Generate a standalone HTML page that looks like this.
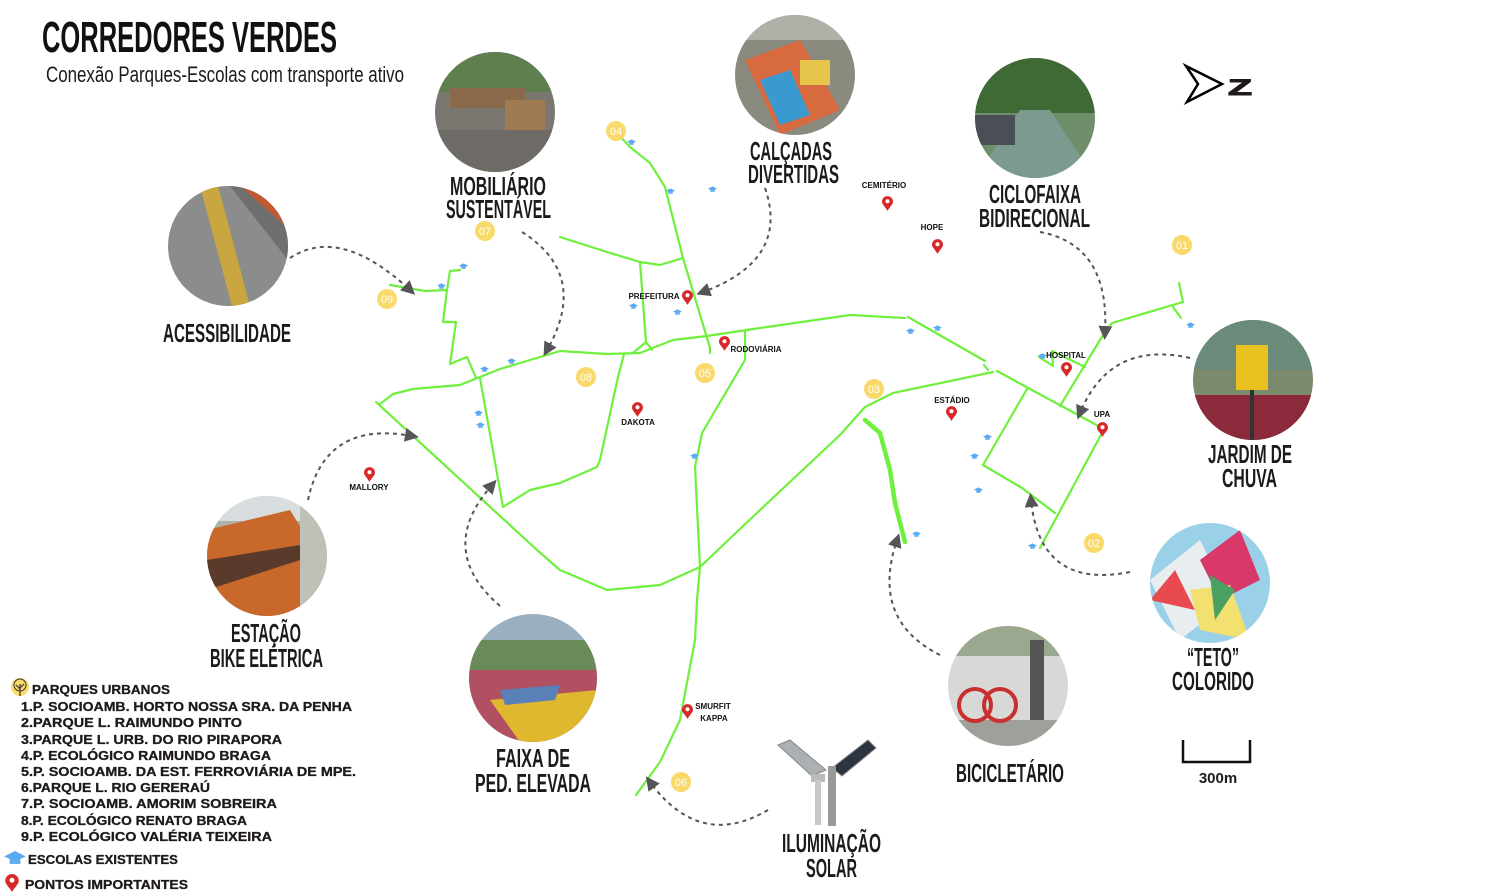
<!DOCTYPE html>
<html><head><meta charset="utf-8"><style>
html,body{margin:0;padding:0;background:#fff;}
svg{display:block;}
.lb{font-family:"Liberation Sans Narrow","Liberation Sans",sans-serif;font-weight:bold;fill:#1e1a1a;}
.lg{font-family:"Liberation Sans","DejaVu Sans",sans-serif;font-weight:bold;fill:#1e1a1a;font-size:13px;stroke:#1e1a1a;stroke-width:0.3;}
.pl{font-family:"Liberation Sans",sans-serif;font-weight:bold;fill:#111;font-size:8px;}
.bd{font-family:"Liberation Sans",sans-serif;fill:#fff;font-size:11px;}
.g{fill:none;stroke:#6ef03c;stroke-width:2.2;stroke-linejoin:round;stroke-linecap:round;}
.d{fill:none;stroke:#555;stroke-width:2;stroke-dasharray:4 4;}
</style></head><body>
<svg width="1502" height="892" viewBox="0 0 1502 892" xmlns="http://www.w3.org/2000/svg">
<defs>
<symbol id="pin" viewBox="0 0 12 16"><path d="M6 16 C3 11 0 9 0 6 A6 6 0 0 1 12 6 C12 9 9 11 6 16Z" fill="#d8282a"/><circle cx="6" cy="5.5" r="2.2" fill="#fff"/></symbol>
<symbol id="cap" viewBox="0 0 10 7"><path d="M0 2.5 L5 0 L10 2.5 L5 5Z" fill="#5aaaf0"/><path d="M2.5 3.8 L2.5 6 L7.5 6 L7.5 3.8 L5 5Z" fill="#5aaaf0"/></symbol>
<marker id="ah" viewBox="0 0 10 10" refX="5" refY="5" markerWidth="7" markerHeight="7" orient="auto"><path d="M0 0 L10 5 L0 10Z" fill="#555"/></marker>
<clipPath id="c1"><circle cx="228" cy="246" r="60"/></clipPath>
<clipPath id="c2"><circle cx="495" cy="112" r="60"/></clipPath>
<clipPath id="c3"><circle cx="795" cy="75" r="60"/></clipPath>
<clipPath id="c4"><circle cx="1035" cy="118" r="60"/></clipPath>
<clipPath id="c5"><circle cx="1253" cy="380" r="60"/></clipPath>
<clipPath id="c6"><circle cx="1210" cy="583" r="60"/></clipPath>
<clipPath id="c7"><circle cx="1008" cy="686" r="60"/></clipPath>
<clipPath id="c8"><circle cx="533" cy="678" r="64"/></clipPath>
<clipPath id="c9"><circle cx="267" cy="556" r="60"/></clipPath>
</defs>

<text class="lb" x="42" y="52" font-size="44" textLength="295" lengthAdjust="spacingAndGlyphs" style="fill:#111">CORREDORES VERDES</text>
<text class="lb" x="46" y="82" font-size="22" textLength="358" lengthAdjust="spacingAndGlyphs" style="font-weight:normal">Conexão Parques-Escolas  com transporte ativo</text>

<g clip-path="url(#c1)"><rect x="168" y="186" width="120" height="120" fill="#8a8d8c"/><path d="M200 186 L218 186 L250 306 L232 306Z" fill="#c9a640"/><path d="M230 186 L288 186 L288 260Z" fill="#6d6f70"/><path d="M240 186 L290 230 L290 200Z" fill="#c05a30"/></g>
<g clip-path="url(#c2)"><rect x="435" y="52" width="120" height="120" fill="#7a7670"/><rect x="435" y="52" width="120" height="40" fill="#5f7f4f"/><rect x="450" y="88" width="75" height="20" fill="#8a6a4a"/><rect x="505" y="100" width="40" height="45" fill="#a07a50"/><rect x="435" y="130" width="120" height="42" fill="#6e6a66"/></g>
<g clip-path="url(#c3)"><rect x="735" y="15" width="120" height="120" fill="#8a8a7e"/><path d="M745 60 L800 40 L840 110 L780 135Z" fill="#d86a40"/><path d="M760 80 L790 70 L810 115 L780 125Z" fill="#3a9ad0"/><rect x="800" y="60" width="30" height="25" fill="#e6c54a"/><rect x="735" y="15" width="120" height="25" fill="#b0b0a8"/></g>
<g clip-path="url(#c4)"><rect x="975" y="58" width="120" height="120" fill="#6f8f6a"/><rect x="975" y="58" width="120" height="55" fill="#3f6a35"/><path d="M975 178 L1020 110 L1050 110 L1095 178Z" fill="#7d9a90"/><rect x="975" y="115" width="40" height="30" fill="#4a4e55"/></g>
<g clip-path="url(#c5)"><rect x="1193" y="320" width="120" height="120" fill="#7a8a6a"/><rect x="1193" y="320" width="120" height="50" fill="#6a8a7a"/><rect x="1193" y="395" width="120" height="45" fill="#8a2a3a"/><rect x="1236" y="345" width="32" height="45" fill="#e8c020"/><rect x="1250" y="390" width="4" height="50" fill="#333"/></g>
<g clip-path="url(#c6)"><rect x="1150" y="523" width="120" height="120" fill="#9ad0e8"/><path d="M1150 580 L1200 540 L1230 600 L1180 640Z" fill="#e8eef0"/><path d="M1200 560 L1240 530 L1260 580 L1220 600Z" fill="#d8386a"/><path d="M1190 590 L1230 585 L1250 640 L1200 630Z" fill="#f2e070"/><path d="M1150 600 L1175 570 L1195 610Z" fill="#e84a50"/><path d="M1210 575 L1235 590 L1215 620Z" fill="#4aa060"/></g>
<g clip-path="url(#c7)"><rect x="948" y="626" width="120" height="120" fill="#d8d8d6"/><rect x="948" y="626" width="120" height="30" fill="#9aa890"/><rect x="948" y="720" width="120" height="26" fill="#a0a09a"/><circle cx="975" cy="705" r="16" fill="none" stroke="#c83030" stroke-width="4"/><circle cx="1000" cy="705" r="16" fill="none" stroke="#c83030" stroke-width="4"/><rect x="1030" y="640" width="14" height="80" fill="#555"/></g>
<g clip-path="url(#c8)"><rect x="469" y="614" width="128" height="128" fill="#9ab0c0"/><rect x="469" y="640" width="128" height="30" fill="#6a8a5a"/><path d="M469 670 L597 670 L597 742 L469 742Z" fill="#b05060"/><path d="M490 700 L597 690 L597 742 L520 742Z" fill="#e0b830"/><path d="M500 690 L560 685 L555 700 L505 705Z" fill="#5a80b8"/></g>
<g clip-path="url(#c9)"><rect x="207" y="496" width="120" height="120" fill="#b0b0aa"/><rect x="207" y="496" width="120" height="25" fill="#d8dee0"/><path d="M207 530 L290 510 L327 570 L327 616 L207 616Z" fill="#c8682a"/><path d="M207 560 L300 545 L300 560 L207 590Z" fill="#5a3a2a"/><rect x="300" y="500" width="27" height="116" fill="#c0c0b8"/></g>

<g class="g">
<polyline points="616,132 630,147 650,163 665,187 683,258 710,348 710,353"/>
<polyline points="560,237 607,252 640,262 660,265 683,258"/>
<polyline points="640,262 646,342 633,353"/>
<polyline points="646,342 652,350"/>
<polyline points="390,285 425,291 447,290 450,271 460,270"/>
<polyline points="447,290 443,322 456,322 450,364 467,357 476,378"/>
<polyline points="380,404 393,394 413,389 460,385 500,369 560,351 607,354 640,353 673,340 707,336 760,328 850,315 905,318"/>
<polyline points="480,378 503,507 530,490 560,483 597,467 600,460 618,377 624,354"/>
<polyline points="376,402 537,550 560,570 607,590 660,585 700,567 760,510 840,435 865,407 893,393 993,372"/>
<polyline points="700,567 697,600 695,640 680,720 660,762 636,795"/>
<polyline points="700,567 695,467 702,433 745,360 745,331"/>
<polyline points="908,317 985,361"/>
<polyline points="984,365 988,370"/>
<polyline points="997,371 1102,428"/>
<polyline points="1027,389 983,465 1022,488 1055,513"/>
<polyline points="1102,433 1040,548"/>
<polyline points="1060,406 1103,335 1112,323 1183,302 1179,283"/>
<polyline points="1173,307 1181,318"/>
<polyline points="1039,357 1053,366 1052,351 1085,367"/>
<polyline points="865,420 880,433 890,470 895,503 905,542" stroke-width="4.5"/>
</g>

<g class="d">
<path d="M290 258 Q340 225 410 290" marker-end="url(#ah)"/>
<path d="M522 232 Q590 275 547 350" marker-end="url(#ah)"/>
<path d="M765 188 Q790 260 703 292" marker-end="url(#ah)"/>
<path d="M1040 232 Q1110 245 1105 333" marker-end="url(#ah)"/>
<path d="M1190 358 Q1110 340 1080 413" marker-end="url(#ah)"/>
<path d="M1130 572 Q1040 590 1031 500" marker-end="url(#ah)"/>
<path d="M940 655 Q870 620 897 540" marker-end="url(#ah)"/>
<path d="M768 810 Q700 850 650 782" marker-end="url(#ah)"/>
<path d="M500 606 Q435 550 492 485" marker-end="url(#ah)"/>
<path d="M308 500 Q325 420 412 436" marker-end="url(#ah)"/>
</g>

<g>
<circle cx="616" cy="131" r="10" fill="#f9d96a"/><text class="bd" x="616" y="135" text-anchor="middle">04</text>
<circle cx="485" cy="231" r="10" fill="#f9d96a"/><text class="bd" x="485" y="235" text-anchor="middle">07</text>
<circle cx="387" cy="299" r="10" fill="#f9d96a"/><text class="bd" x="387" y="303" text-anchor="middle">09</text>
<circle cx="586" cy="377" r="10" fill="#f9d96a"/><text class="bd" x="586" y="381" text-anchor="middle">08</text>
<circle cx="705" cy="373" r="10" fill="#f9d96a"/><text class="bd" x="705" y="377" text-anchor="middle">05</text>
<circle cx="874" cy="389" r="10" fill="#f9d96a"/><text class="bd" x="874" y="393" text-anchor="middle">03</text>
<circle cx="1182" cy="245" r="10" fill="#f9d96a"/><text class="bd" x="1182" y="249" text-anchor="middle">01</text>
<circle cx="1094" cy="543" r="10" fill="#f9d96a"/><text class="bd" x="1094" y="547" text-anchor="middle">02</text>
<circle cx="681" cy="782" r="10" fill="#f9d96a"/><text class="bd" x="681" y="786" text-anchor="middle">06</text>
</g>

<g>
<use href="#cap" x="627" y="139" width="9" height="7"/>
<use href="#cap" x="666" y="188" width="9" height="7"/>
<use href="#cap" x="708" y="186" width="9" height="7"/>
<use href="#cap" x="459" y="263" width="9" height="7"/>
<use href="#cap" x="437" y="283" width="9" height="7"/>
<use href="#cap" x="629" y="303" width="9" height="7"/>
<use href="#cap" x="673" y="309" width="9" height="7"/>
<use href="#cap" x="480" y="366" width="9" height="7"/>
<use href="#cap" x="507" y="358" width="9" height="7"/>
<use href="#cap" x="474" y="410" width="9" height="7"/>
<use href="#cap" x="476" y="422" width="9" height="7"/>
<use href="#cap" x="690" y="453" width="9" height="7"/>
<use href="#cap" x="906" y="328" width="9" height="7"/>
<use href="#cap" x="933" y="325" width="9" height="7"/>
<use href="#cap" x="983" y="434" width="9" height="7"/>
<use href="#cap" x="970" y="453" width="9" height="7"/>
<use href="#cap" x="974" y="487" width="9" height="7"/>
<use href="#cap" x="912" y="531" width="9" height="7"/>
<use href="#cap" x="1028" y="543" width="9" height="7"/>
<use href="#cap" x="1186" y="322" width="9" height="7"/>
<use href="#cap" x="1038" y="353" width="9" height="7"/>
</g>

<g>
<use href="#pin" x="882" y="196" width="11" height="15"/><text class="pl" x="884" y="188" text-anchor="middle">CEMITÉRIO</text>
<use href="#pin" x="932" y="239" width="11" height="15"/><text class="pl" x="932" y="230" text-anchor="middle">HOPE</text>
<use href="#pin" x="682" y="290" width="11" height="15"/><text class="pl" x="654" y="299" text-anchor="middle">PREFEITURA</text>
<use href="#pin" x="719" y="336" width="11" height="15"/><text class="pl" x="756" y="352" text-anchor="middle">RODOVIÁRIA</text>
<use href="#pin" x="632" y="402" width="11" height="15"/><text class="pl" x="638" y="425" text-anchor="middle">DAKOTA</text>
<use href="#pin" x="364" y="467" width="11" height="15"/><text class="pl" x="369" y="490" text-anchor="middle">MALLORY</text>
<use href="#pin" x="946" y="406" width="11" height="15"/><text class="pl" x="952" y="403" text-anchor="middle">ESTÁDIO</text>
<use href="#pin" x="1061" y="362" width="11" height="15"/><text class="pl" x="1066" y="358" text-anchor="middle">HOSPITAL</text>
<use href="#pin" x="1097" y="422" width="11" height="15"/><text class="pl" x="1102" y="417" text-anchor="middle">UPA</text>
<use href="#pin" x="682" y="704" width="11" height="15"/><text class="pl" x="713" y="709" text-anchor="middle">SMURFIT</text><text class="pl" x="714" y="721" text-anchor="middle">KAPPA</text>
</g>

<g>
<path d="M778 745 L790 740 L826 770 L812 776Z" fill="#aab0b4" stroke="#888" stroke-width="1"/>
<path d="M832 768 L868 740 L876 748 L842 776Z" fill="#2c3440" stroke="#888" stroke-width="1"/>
<rect x="811" y="774" width="14" height="8" fill="#bbb"/>
<rect x="815" y="780" width="6" height="45" fill="#c8c8c8"/>
<rect x="828" y="766" width="8" height="60" fill="#999"/>
</g>

<g class="lb" font-size="26">
<text x="163" y="342" textLength="128" lengthAdjust="spacingAndGlyphs">ACESSIBILIDADE</text>
<text x="450" y="195" textLength="96" lengthAdjust="spacingAndGlyphs">MOBILIÁRIO</text>
<text x="446" y="218" textLength="105" lengthAdjust="spacingAndGlyphs">SUSTENTÁVEL</text>
<text x="750" y="160" textLength="82" lengthAdjust="spacingAndGlyphs">CALÇADAS</text>
<text x="748" y="183" textLength="91" lengthAdjust="spacingAndGlyphs">DIVERTIDAS</text>
<text x="989" y="203" textLength="92" lengthAdjust="spacingAndGlyphs">CICLOFAIXA</text>
<text x="979" y="227" textLength="111" lengthAdjust="spacingAndGlyphs">BIDIRECIONAL</text>
<text x="1208" y="463" textLength="84" lengthAdjust="spacingAndGlyphs">JARDIM DE</text>
<text x="1222" y="487" textLength="55" lengthAdjust="spacingAndGlyphs">CHUVA</text>
<text x="1187" y="666" textLength="52" lengthAdjust="spacingAndGlyphs">“TETO”</text>
<text x="1172" y="690" textLength="82" lengthAdjust="spacingAndGlyphs">COLORIDO</text>
<text x="956" y="782" textLength="108" lengthAdjust="spacingAndGlyphs">BICICLETÁRIO</text>
<text x="782" y="852" textLength="99" lengthAdjust="spacingAndGlyphs">ILUMINAÇÃO</text>
<text x="806" y="877" textLength="51" lengthAdjust="spacingAndGlyphs">SOLAR</text>
<text x="496" y="767" textLength="74" lengthAdjust="spacingAndGlyphs">FAIXA DE</text>
<text x="475" y="792" textLength="116" lengthAdjust="spacingAndGlyphs">PED. ELEVADA</text>
<text x="231" y="642" textLength="70" lengthAdjust="spacingAndGlyphs">ESTAÇÃO</text>
<text x="210" y="667" textLength="113" lengthAdjust="spacingAndGlyphs">BIKE ELÉTRICA</text>
</g>

<path d="M1186 66 L1222 84 L1187 102 L1198 84Z" fill="none" stroke="#000" stroke-width="2.5" stroke-linejoin="miter"/>
<text x="1228" y="95" font-family="Liberation Sans,sans-serif" font-weight="bold" font-size="22" fill="#1e1a1a" stroke="#1e1a1a" stroke-width="1" textLength="24" lengthAdjust="spacingAndGlyphs">Z</text>

<path d="M1183 740 L1183 762 L1250 762 L1250 740" fill="none" stroke="#111" stroke-width="2.5"/>
<text x="1218" y="783" text-anchor="middle" font-family="Liberation Sans,sans-serif" font-weight="bold" font-size="15" fill="#1e1a1a">300m</text>

<circle cx="20" cy="687" r="9" fill="#f9d96a"/><path d="M20 696 L20 684 M20 689 L16 685 M20 688 L24 684" stroke="#333" stroke-width="1.2" fill="none"/><circle cx="20" cy="685" r="6" fill="none" stroke="#333" stroke-width="1"/>
<text class="lg" x="32" y="694" textLength="138" lengthAdjust="spacingAndGlyphs">PARQUES URBANOS</text>
<g class="lg">
<text x="21" y="711" textLength="331" lengthAdjust="spacingAndGlyphs">1.P. SOCIOAMB. HORTO NOSSA SRA. DA PENHA</text>
<text x="21" y="727" textLength="221" lengthAdjust="spacingAndGlyphs">2.PARQUE L. RAIMUNDO PINTO</text>
<text x="21" y="744" textLength="261" lengthAdjust="spacingAndGlyphs">3.PARQUE L. URB. DO RIO PIRAPORA</text>
<text x="21" y="760" textLength="250" lengthAdjust="spacingAndGlyphs">4.P. ECOLÓGICO RAIMUNDO BRAGA</text>
<text x="21" y="776" textLength="335" lengthAdjust="spacingAndGlyphs">5.P. SOCIOAMB. DA EST. FERROVIÁRIA DE MPE.</text>
<text x="21" y="792" textLength="189" lengthAdjust="spacingAndGlyphs">6.PARQUE L. RIO GERERAÚ</text>
<text x="21" y="808" textLength="256" lengthAdjust="spacingAndGlyphs">7.P. SOCIOAMB. AMORIM SOBREIRA</text>
<text x="21" y="825" textLength="226" lengthAdjust="spacingAndGlyphs">8.P. ECOLÓGICO RENATO BRAGA</text>
<text x="21" y="841" textLength="251" lengthAdjust="spacingAndGlyphs">9.P. ECOLÓGICO VALÉRIA TEIXEIRA</text>
</g>
<use href="#cap" x="4" y="851" width="22" height="15"/>
<text class="lg" x="28" y="864" textLength="150" lengthAdjust="spacingAndGlyphs">ESCOLAS EXISTENTES</text>
<use href="#pin" x="5" y="874" width="14" height="18"/>
<text class="lg" x="25" y="889" textLength="163" lengthAdjust="spacingAndGlyphs">PONTOS IMPORTANTES</text>
</svg>
</body></html>
